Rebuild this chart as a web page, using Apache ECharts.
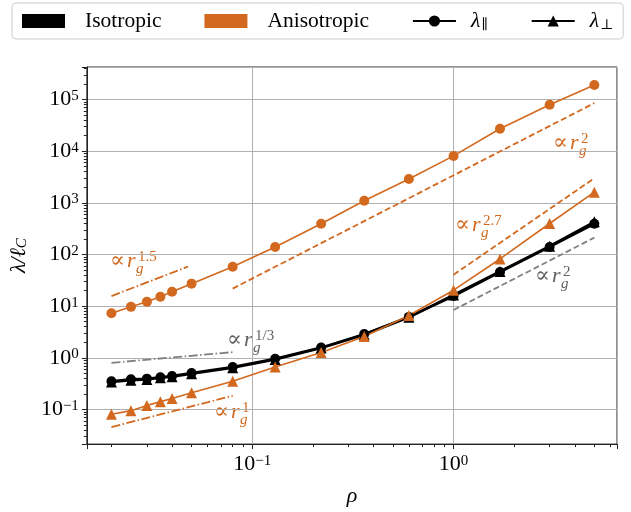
<!DOCTYPE html>
<html>
<head>
<meta charset="utf-8">
<script src="https://cdn.jsdelivr.net/npm/echarts@6/dist/echarts.min.js"></script>
<style>
  html, body { margin: 0; padding: 0; background: #fff; }
  #chart { width: 631px; height: 512px; }
</style>
</head>
<body>
<div id="chart"></div>
<script>
// data
var rho = [0.02, 0.025, 0.03, 0.035, 0.04, 0.05, 0.08, 0.13, 0.22, 0.36, 0.6, 1.0, 1.7, 3.0, 5.0];
var anisoPar = [7.3, 9.7, 12.2, 15.2, 19.0, 27.3, 58, 140, 393, 1100, 2900, 8100, 27100, 79000, 191000];
var anisoPerp = [0.081, 0.095, 0.119, 0.142, 0.164, 0.211, 0.353, 0.663, 1.27, 2.6, 6.6, 20.4, 82, 398, 1610];
var isoPar = [0.353, 0.386, 0.396, 0.421, 0.446, 0.509, 0.663, 0.957, 1.58, 2.88, 6.2, 15.7, 45.8, 140, 393];
var isoPerp = [0.34, 0.37, 0.38, 0.41, 0.43, 0.49, 0.64, 0.93, 1.55, 2.8, 6.1, 16.5, 47, 145, 430];

// power-law guide lines (end points)
var guideA15x = [0.02, 0.048], guideA15y = [15.7, 58.4];
var guideA2x = [0.08, 5], guideA2y = [21.9, 85300];
var guideA27x = [1, 5], guideA27y = [40.7, 2990];
var guideI2x = [1, 5], guideI2y = [8.45, 212];
var guideI13x = [0.02, 0.08], guideI13y = [0.80, 1.29];
var guideA1x = [0.02, 0.08], guideA1y = [0.0456, 0.185];

var orange = '#D2691E';
var grayLine = '#808080';
var grayText = '#606060';
var serif = '"Liberation Serif", "DejaVu Serif", serif';

function pairs(xs, ys) {
  return xs.map(function (x, i) { return [x, ys[i]]; });
}

function sci(v) {
  var e = Math.round(Math.log10(v));
  if (Math.abs(Math.log10(v) - e) > 1e-6) return '';
  return '{b|10}{s|' + (e < 0 ? '\u2212' + (-e) : e) + '}';
}

var tickRich = {
  b: { fontSize: 22, fontFamily: serif, color: '#000', verticalAlign: 'bottom', lineHeight: 22 },
  s: { fontSize: 15, fontFamily: serif, color: '#000', verticalAlign: 'top', lineHeight: 15, padding: [0, 0, 12, 0] }
};

function dataLine(name, ys, color, symbol, width, size) {
  return {
    name: name, type: 'line', data: pairs(rho, ys),
    symbol: symbol, symbolSize: size, showSymbol: true,
    lineStyle: { color: color, width: width },
    itemStyle: { color: color },
    emphasis: { disabled: true }, silent: true, z: 3
  };
}

function guide(xs, ys, color, dash) {
  return {
    type: 'line', data: pairs(xs, ys), symbol: 'none', silent: true,
    lineStyle: { color: color, width: 1.8, type: dash },
    emphasis: { disabled: true }, z: 2
  };
}

function legendOnly(name, color, symbol) {
  return {
    name: name, type: 'line', data: [], symbol: symbol || 'none', symbolSize: 9,
    lineStyle: { color: color, width: 2 }, itemStyle: { color: color }
  };
}

var dashed = [6, 3];
var dashDot = [9, 2.5, 1.5, 2.5];

// annotation "∝ r_g^p" at pixel position: x of ∝, baseline
function annot(x, base, p, color) {
  var f = 22, fs = 15;
  return [
    { type: 'text', x: x, y: base - 7, style: { text: '\u221D', font: f + 'px ' + serif, fill: color, verticalAlign: 'middle' } },
    { type: 'text', x: x + 17, y: base - 7, style: { text: 'r', font: 'italic ' + f + 'px ' + serif, fill: color, verticalAlign: 'middle' } },
    { type: 'text', x: x + 28, y: base - 11, style: { text: p, font: fs + 'px ' + serif, fill: color, verticalAlign: 'middle' } },
    { type: 'text', x: x + 26, y: base + 1, style: { text: 'g', font: 'italic ' + fs + 'px ' + serif, fill: color, verticalAlign: 'middle' } }
  ];
}

var graphics = [].concat(
  annot(110, 268, '1.5', orange),
  annot(553, 150, '2', orange),
  annot(455, 232, '2.7', orange),
  annot(535, 283, '2', grayText),
  annot(227, 347, '1/3', grayText),
  annot(214, 419, '1', orange)
);

var chart = echarts.init(document.getElementById('chart'));
chart.setOption({
  animation: false,
  backgroundColor: '#fff',
  grid: { left: 82, right: 14, top: 67, bottom: 64, show: true, borderColor: '#222', borderWidth: 1, backgroundColor: 'transparent' },
  legend: {
    left: 12, top: 3, padding: [7, 10, 7, 10],
    itemWidth: 43, itemHeight: 14, itemGap: 43,
    selectedMode: false,
    borderColor: '#cccccc', borderWidth: 1, borderRadius: 4, backgroundColor: '#fff',
    data: [
      { name: 'Isotropic', icon: 'rect' },
      { name: 'Anisotropic', icon: 'rect' },
      { name: 'lpar' },
      { name: 'lperp' }
    ],
    formatter: function (name) {
      if (name === 'lpar') return '{l|\u03BB}{sub|\u2225}';
      if (name === 'lperp') return '{l|\u03BB}{sub|\u22A5}';
      return '{t|' + name + '}';
    },
    textStyle: {
      color: '#000',
      rich: {
        t: { fontSize: 21.5, fontFamily: serif, padding: [0, 0, 0, 15] },
        l: { fontSize: 21.5, fontFamily: serif, fontStyle: 'italic', padding: [0, 0, 0, 10], verticalAlign: 'bottom' },
        sub: { fontSize: 14, fontFamily: serif, verticalAlign: 'bottom', padding: [0, 0, 0, 1] }
      }
    }
  },
  xAxis: {
    type: 'log', logBase: 10, min: 0.0151, max: 6.48,
    name: '\u03C1', nameLocation: 'middle', nameGap: 38,
    nameTextStyle: { fontSize: 22, fontFamily: serif, fontStyle: 'italic', color: '#000' },
    axisLine: { show: true, lineStyle: { color: '#222', width: 1 } },
    axisTick: { show: true, length: 5, lineStyle: { color: '#222' } },
    minorTick: { show: true, splitNumber: 9, length: 3, lineStyle: { color: '#222' } },
    splitLine: { show: true, lineStyle: { color: '#b0b0b0', width: 1 } },
    axisLabel: { formatter: sci, rich: tickRich, margin: 9, showMinLabel: false, showMaxLabel: false }
  },
  yAxis: {
    type: 'log', logBase: 10, min: 0.0214, max: 426000,
    name: '{l|\u03BB/\u2113}{c|C}', nameLocation: 'middle', nameGap: 52,
    nameTextStyle: {
      rich: {
        l: { fontSize: 22, fontFamily: serif, fontStyle: 'italic', color: '#000', verticalAlign: 'bottom' },
        c: { fontSize: 15, fontFamily: serif, fontStyle: 'italic', color: '#000', verticalAlign: 'bottom' }
      }
    },
    axisLine: { show: true, lineStyle: { color: '#222', width: 1 } },
    axisTick: { show: true, length: 5, lineStyle: { color: '#222' } },
    minorTick: { show: true, splitNumber: 9, length: 3, lineStyle: { color: '#222' } },
    splitLine: { show: true, lineStyle: { color: '#b0b0b0', width: 1 } },
    axisLabel: { formatter: sci, rich: tickRich, margin: 8, showMinLabel: false, showMaxLabel: false }
  },
  series: [
    guide(guideA15x, guideA15y, orange, dashDot),
    guide(guideA2x, guideA2y, orange, dashed),
    guide(guideA27x, guideA27y, orange, dashed),
    guide(guideI2x, guideI2y, grayLine, dashed),
    guide(guideI13x, guideI13y, grayLine, dashDot),
    guide(guideA1x, guideA1y, orange, dashDot),
    dataLine('isoPerp', isoPerp, '#000', 'triangle', 2.5, 11),
    dataLine('isoPar', isoPar, '#000', 'circle', 2.5, 10),
    dataLine('anisoPar', anisoPar, orange, 'circle', 1.6, 10),
    dataLine('anisoPerp', anisoPerp, orange, 'triangle', 1.6, 11),
    legendOnly('Isotropic', '#000'),
    legendOnly('Anisotropic', orange),
    legendOnly('lpar', '#000', 'circle'),
    legendOnly('lperp', '#000', 'triangle')
  ],
  graphic: graphics
});
</script>
</body>
</html>
